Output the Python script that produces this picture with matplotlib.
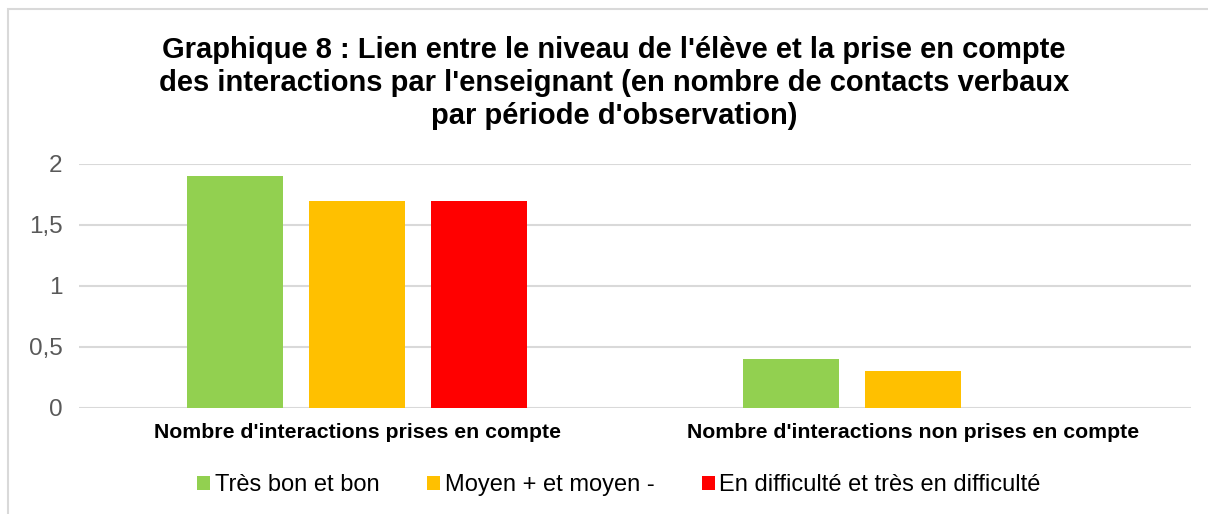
import matplotlib
matplotlib.use('Agg')
import matplotlib.pyplot as plt
from matplotlib.patches import Rectangle
import numpy as np

plt.rcParams['font.family'] = ['Liberation Sans', 'DejaVu Sans']

# Donnees
categories = ["Nombre d'interactions prises en compte",
              "Nombre d'interactions non prises en compte"]
series = ["Très bon et bon", "Moyen + et moyen -", "En difficulté et très en difficulté"]
tres_bon = [1.9, 0.4]
moyen = [1.7, 0.3]
difficulte = [1.7, 0.0]
yticks = [0, 0.5, 1, 1.5, 2]
ytick_labels = ["0", "0,5", "1", "1,5", "2"]

colors = ['#92D050', '#FFC000', '#FF0000']
titre = ("Graphique 8 : Lien entre le niveau de l'élève et la prise en compte\n"
         "des interactions par l'enseignant (en nombre de contacts verbaux\n"
         "par période d'observation)")

fig = plt.figure(figsize=(12.08, 5.14), dpi=100)
# cadre du graphique (bords droit et bas hors image)
fig.patches.append(Rectangle((8 / 1208, -0.02), 1.02, 1 - 9 / 514 + 0.02,
                             transform=fig.transFigure, fill=False,
                             edgecolor='#D9D9D9', linewidth=1.5))
ax = fig.add_axes([79 / 1208, 1 - 408 / 514, (1191 - 79) / 1208, (408 - 164) / 514])

x = np.arange(len(categories))
w = 0.173
step = 0.22
for i, (vals, c, lab) in enumerate(zip([tres_bon, moyen, difficulte], colors, series)):
    ax.bar(x + (i - 1) * step, vals, width=w, color=c, label=lab, zorder=3)

ax.set_xlim(-0.5, 1.5)
ax.set_ylim(0, 2)
ax.set_yticks(yticks)
ax.set_yticklabels(ytick_labels, fontsize=17.5, color='#595959')
ax.set_xticks(x)
ax.set_xticklabels(categories, fontsize=15.3, fontweight='bold', color='black')
ax.tick_params(axis='both', length=0)
ax.tick_params(axis='y', pad=12)
ax.tick_params(axis='x', pad=11)
ax.grid(axis='y', color='#D9D9D9', linewidth=1.5, zorder=0)
for s in ax.spines.values():
    s.set_visible(False)

fig.text(614 / 1208, 1 - 36 / 514, titre, ha='center', va='top', fontsize=21,
         fontweight='bold', linespacing=1.22)

fig.legend(loc='center', bbox_to_anchor=(619 / 1208, 1 - 485 / 514), ncol=3,
           frameon=False, fontsize=17, handlelength=0.55, handleheight=0.55,
           handletextpad=0.2, columnspacing=2.0, labelcolor='#000000')

fig.savefig('out.png', dpi=100)
